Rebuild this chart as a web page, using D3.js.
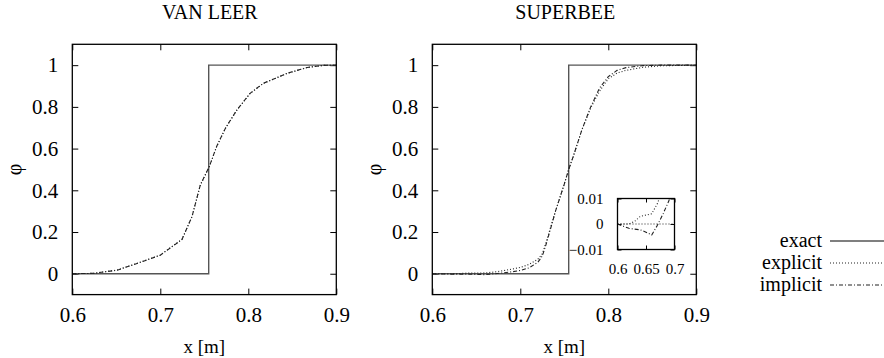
<!DOCTYPE html>
<html><head><meta charset="utf-8">
<script src="https://cdn.jsdelivr.net/npm/d3@7/dist/d3.min.js"></script>
<style>
html,body{margin:0;padding:0;background:#fff;}
</style></head>
<body><svg id="c" width="884" height="358"></svg>
<script>
// ---------- data ----------
const titles = ["VAN LEER", "SUPERBEE"];
const seriesNames = ["exact", "explicit", "implicit"];
const xTicks = [0.6, 0.7, 0.8, 0.9];
const yTicks = [0, 0.2, 0.4, 0.6, 0.8, 1];
const insetXTicks = [0.6, 0.65, 0.7];
const insetYTicks = [-0.01, 0, 0.01];

const exactX = [0.6, 0.755, 0.755, 0.9];
const exactY = [0, 0, 1, 1];

const vanLeerX = [0.6, 0.624, 0.651, 0.6735, 0.7, 0.7246, 0.736, 0.7455, 0.7557, 0.764, 0.774, 0.787, 0.802, 0.817, 0.844, 0.867, 0.886, 0.9];
const vanLeerExplicit = [0, 0.002, 0.018, 0.05, 0.09, 0.165, 0.273, 0.425, 0.513, 0.609, 0.697, 0.784, 0.864, 0.912, 0.96, 0.989, 0.999, 1];
const vanLeerImplicit = [0, 0.002, 0.017, 0.049, 0.089, 0.164, 0.274, 0.426, 0.514, 0.61, 0.698, 0.785, 0.865, 0.913, 0.961, 0.989, 0.999, 1];

const superbeeX = [0.6, 0.62, 0.63, 0.64, 0.65, 0.66, 0.67, 0.68, 0.69, 0.7, 0.71, 0.72, 0.725, 0.73, 0.74, 0.75, 0.755, 0.76, 0.77, 0.78, 0.79, 0.8, 0.81, 0.82, 0.84, 0.86, 0.9];
const superbeeExplicit = [0, 0, 0.001, 0.003, 0.0035, 0.004, 0.008, 0.014, 0.022, 0.03, 0.045, 0.07, 0.095, 0.16, 0.3, 0.43, 0.5, 0.56, 0.69, 0.795, 0.875, 0.935, 0.962, 0.975, 0.99, 0.997, 1];
const superbeeImplicit = [0, -0.0017, -0.002, -0.0023, -0.0032, -0.0043, -0.0005, 0.004, 0.009, 0.016, 0.028, 0.055, 0.085, 0.15, 0.3, 0.43, 0.5, 0.56, 0.69, 0.8, 0.89, 0.945, 0.975, 0.988, 0.998, 1, 1];

// ---------- drawing ----------
const FONT = "'Liberation Serif', 'Times New Roman', Times, serif";
const svg = d3.select("#c");
const styles = {
  exact: {stroke: "#555", dash: null, width: 1.4},
  explicit: {stroke: "#222", dash: "1,2", width: 1.1},
  implicit: {stroke: "#222", dash: "4,2,1,2", width: 1.1}
};
const zip = (xs, ys) => xs.map((x, i) => [x, ys[i]]);

function panel(left, title, titleShift, expl, impl, xs, withInset) {
  const W = 264, top = 44.3, H = 250.3;
  const x = d3.scaleLinear().domain([0.6, 0.9]).range([left, left + W]);
  const y = d3.scaleLinear().domain([-0.1, 1.1]).range([top + H, top]);
  const g = svg.append("g");
  const tk = 6;
  g.append("g").attr("transform", `translate(0,${top + H})`)
    .call(d3.axisBottom(x).tickValues(xTicks).tickSize(-tk).tickPadding(12).tickFormat(d3.format("")))
    .call(a => a.select(".domain").remove());
  g.append("g").attr("transform", `translate(0,${top})`)
    .call(d3.axisTop(x).tickValues(xTicks).tickSize(-tk).tickFormat(""))
    .call(a => a.select(".domain").remove());
  g.append("g").attr("transform", `translate(${left},0)`)
    .call(d3.axisLeft(y).tickValues(yTicks).tickSize(-tk).tickPadding(14).tickFormat(d3.format("")))
    .call(a => a.select(".domain").remove());
  g.append("g").attr("transform", `translate(${left + W},0)`)
    .call(d3.axisRight(y).tickValues(yTicks).tickSize(-tk).tickFormat(""))
    .call(a => a.select(".domain").remove());
  g.selectAll(".tick line").attr("stroke", "#000").attr("stroke-width", 1);
  g.selectAll(".tick text").style("font-size", "21px");
  const line = d3.line().x(d => x(d[0])).y(d => y(d[1]));
  const data = {exact: zip(exactX, exactY), explicit: zip(xs, expl), implicit: zip(xs, impl)};
  seriesNames.forEach(n => {
    g.append("path").attr("d", line(data[n])).attr("fill", "none")
      .attr("stroke", styles[n].stroke).attr("stroke-width", styles[n].width)
      .attr("stroke-dasharray", styles[n].dash);
  });
  g.append("rect").attr("x", left).attr("y", top).attr("width", W).attr("height", H)
    .attr("fill", "none").attr("stroke", "#000").attr("stroke-width", 1.3);
  g.append("text").attr("x", left + W / 2 + titleShift).attr("y", 19).attr("text-anchor", "middle")
    .style("font-size", "20px").text(title);
  g.append("text").attr("x", left + W / 2).attr("y", 353).attr("text-anchor", "middle")
    .style("font-size", "19px").text("x [m]");
  g.append("text").attr("transform", `translate(${left - 58},${top + H / 2}) rotate(-90)`)
    .attr("text-anchor", "middle").attr("dy", "0.35em").style("font-size", "20px").text("φ");

  if (withInset) {
    const il = 617.5, it = 198.5, iw = 57, ih = 51;
    const ix = d3.scaleLinear().domain([0.6, 0.7]).range([il, il + iw]);
    const iy = d3.scaleLinear().domain([-0.01, 0.01]).range([it + ih, it]);
    const ig = g.append("g");
    ig.append("rect").attr("x", il).attr("y", it).attr("width", iw).attr("height", ih).attr("fill", "#fff");
    ig.append("g").attr("transform", `translate(0,${it + ih})`)
      .call(d3.axisBottom(ix).tickValues(insetXTicks).tickSize(-4).tickPadding(14).tickFormat(d3.format("")))
      .call(a => a.select(".domain").remove());
    ig.append("g").attr("transform", `translate(0,${it})`)
      .call(d3.axisTop(ix).tickValues(insetXTicks).tickSize(-4).tickFormat(""))
      .call(a => a.select(".domain").remove());
    ig.append("g").attr("transform", `translate(${il},0)`)
      .call(d3.axisLeft(iy).tickValues(insetYTicks).tickSize(-4).tickPadding(14).tickFormat(d3.format("")))
      .call(a => a.select(".domain").remove());
    ig.append("g").attr("transform", `translate(${il + iw},0)`)
      .call(d3.axisRight(iy).tickValues(insetYTicks).tickSize(-4).tickFormat(""))
      .call(a => a.select(".domain").remove());
    ig.selectAll(".tick line").attr("stroke", "#000");
    ig.selectAll(".tick text").style("font-size", "15px");
    ig.append("clipPath").attr("id", "ic").append("rect")
      .attr("x", il).attr("y", it).attr("width", iw).attr("height", ih);
    const cg = ig.append("g").attr("clip-path", "url(#ic)");
    cg.append("line").attr("x1", il).attr("x2", il + iw).attr("y1", iy(0)).attr("y2", iy(0))
      .attr("stroke", "#222").attr("stroke-dasharray", "1,2");
    const il2 = d3.line().x(d => ix(d[0])).y(d => iy(d[1]));
    ["explicit", "implicit"].forEach(n => {
      cg.append("path").attr("d", il2(data[n].filter(d => d[0] <= 0.73))).attr("fill", "none")
        .attr("stroke", styles[n].stroke).attr("stroke-width", 1.1)
        .attr("stroke-dasharray", styles[n].dash);
    });
    ig.append("rect").attr("x", il).attr("y", it).attr("width", iw).attr("height", ih)
      .attr("fill", "none").attr("stroke", "#000").attr("stroke-width", 1.3);
  }
}

panel(72.3, titles[0], 5.5, vanLeerExplicit, vanLeerImplicit, vanLeerX, false);
panel(432.3, titles[1], 1, superbeeExplicit, superbeeImplicit, superbeeX, true);

const lg = svg.append("g");
seriesNames.forEach((n, i) => {
  const yy = 241 + i * 22;
  lg.append("text").attr("x", 822).attr("y", yy).attr("dy", "0.32em").attr("text-anchor", "end")
    .style("font-size", "20px").text(n);
  lg.append("line").attr("x1", 830).attr("x2", 884).attr("y1", yy).attr("y2", yy)
    .attr("stroke", styles[n].stroke).attr("stroke-width", styles[n].width)
    .attr("stroke-dasharray", styles[n].dash);
});

svg.selectAll("text").style("font-family", FONT).attr("fill", "#000");
</script></body></html>
